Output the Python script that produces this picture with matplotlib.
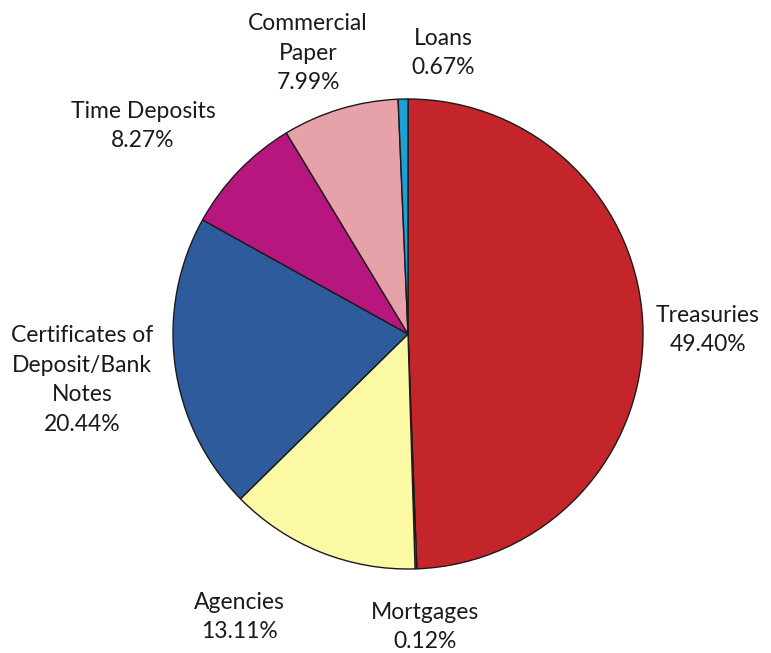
import matplotlib
matplotlib.use("Agg")
import matplotlib.pyplot as plt

categories = ["Treasuries", "Mortgages", "Agencies", "Certificates of\nDeposit/Bank\nNotes",
              "Time Deposits", "Commercial\nPaper", "Loans"]
values = [49.40, 0.12, 13.11, 20.44, 8.27, 7.99, 0.67]
colors = ["#C4252B", "#9BBB59", "#FBF9A3", "#2E5B9C", "#B8167F", "#E7A1A9", "#1E9FD6"]

# label centre positions (pixels in the 771x653 canvas)
label_px = [(708, 330), (425, 627), (239, 617), (82, 380), (143, 126), (308, 53), (443, 53)]

W, H = 771, 653
cx, cy, R = 408, 334, 235

fig = plt.figure(figsize=(W / 100, H / 100), dpi=100)
ax = fig.add_axes([(cx - R) / W, (H - cy - R) / H, 2 * R / W, 2 * R / H])
ax.pie(values, colors=colors, startangle=90, counterclock=False,
       wedgeprops=dict(edgecolor="#1a1a1a", linewidth=1.0))
ax.set_xlim(-1, 1)
ax.set_ylim(-1, 1)
ax.set_aspect("equal")
ax.axis("off")

for cat, v, (px, py) in zip(categories, values, label_px):
    fig.text(px / W, 1 - py / H, f"{cat}\n{v:.2f}%", ha="center", va="center",
             fontsize=16.5, family=["Lato", "DejaVu Sans"], color="#1a1a1a",
             linespacing=1.5)

fig.savefig("out.png", dpi=100, facecolor="white")
